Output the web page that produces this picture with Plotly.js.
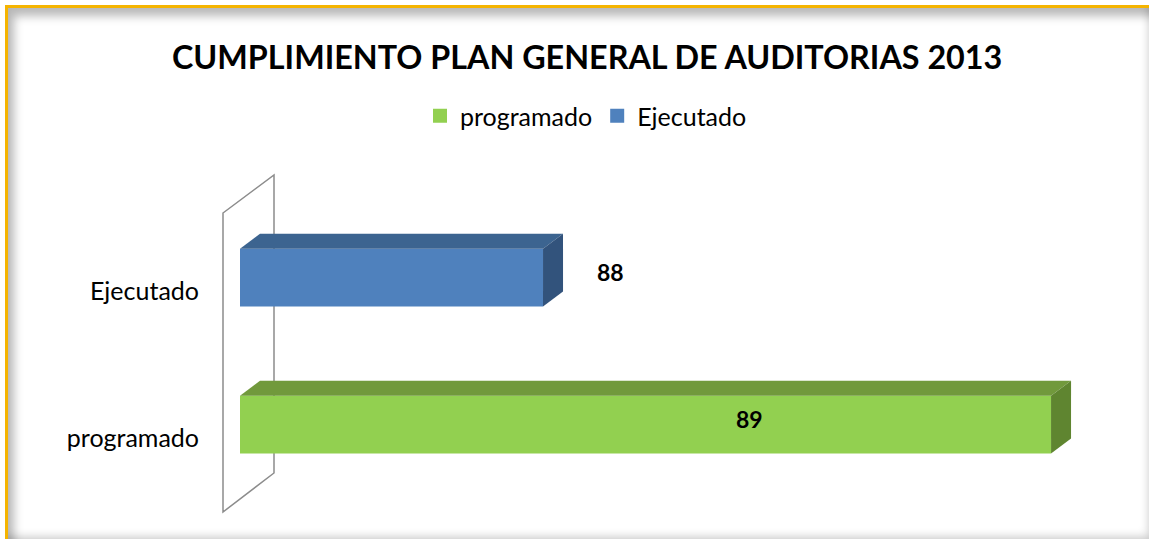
<!DOCTYPE html>
<html>
<head>
<meta charset="utf-8">
<script src="https://cdn.plot.ly/plotly-3.0.1.min.js"></script>
<style>
  body { margin: 0; background: #fff; }
  #wrap { position: relative; width: 1149px; height: 539px; overflow: hidden; }
  #chart { width: 1149px; height: 539px; }
  #frame {
    position: absolute; left: 5px; top: 5px; width: 1150px; height: 540px;
    border-top: 3px solid #f5b400; border-left: 3px solid #f5b400;
    box-shadow: inset 6px 8px 10px rgba(0,0,0,0.28), inset -6px -8px 10px rgba(0,0,0,0.22);
    pointer-events: none; box-sizing: border-box;
  }
</style>
</head>
<body>
<div id="wrap">
  <div id="chart"></div>
  <div id="frame"></div>
</div>
<script>
// values
var categories = ['programado', 'Ejecutado'];
var values = [89, 88];
var labels = ['89', '88'];

// colours: front, top, side
var frontColors = ['#92d050', '#4f81bd'];
var topColors = ['#71993c', '#3c6490'];
var sideColors = ['#5f8530', '#32537c'];
var labelShift = [-302, 67];

var W = 1149, H = 539;
var margin = {l: 240, r: 69, t: 170, b: 19, pad: 0};
var xRange = [87.4035, 89.057];
var yRange = [-0.558, 1.823];
var barWidth = 0.394, barOffset = -0.106;

var plotW = W - margin.l - margin.r;
var plotH = H - margin.t - margin.b;
// depth of the fake 3d in pixels -> data units
var dx = 20 * (xRange[1] - xRange[0]) / plotW;
var dy = 15 * (yRange[1] - yRange[0]) / plotH;

function px(x) { return (x - margin.l) / plotW; }
function py(y) { return (H - margin.b - y) / plotH; }

var traces = categories.map(function (c, i) {
  return {
    type: 'bar',
    orientation: 'h',
    name: c,
    x: [values[i]],
    y: [i],
    width: barWidth,
    offset: barOffset,
    marker: {color: frontColors[i], line: {width: 0}},
    showlegend: false
  };
});
// legend entries with bigger square swatches
categories.forEach(function (c, i) {
  traces.push({
    type: 'scatter', mode: 'markers', name: c,
    x: [null], y: [null],
    marker: {symbol: 'square', size: 14, color: frontColors[i]}
  });
});

var shapes = [];
// side wall
shapes.push({
  type: 'path', xref: 'paper', yref: 'paper', layer: 'below',
  path: 'M' + px(223) + ',' + py(213) + ' L' + px(274) + ',' + py(175) +
        ' L' + px(274) + ',' + py(473) + ' L' + px(223) + ',' + py(512) + ' Z',
  line: {color: '#8c8c8c', width: 1.5}
});

categories.forEach(function (c, i) {
  var v = values[i];
  var y0 = i + barOffset, y1 = y0 + barWidth, x0 = xRange[0];
  shapes.push({
    type: 'path', xref: 'x', yref: 'y', layer: 'above',
    path: 'M' + x0 + ',' + y1 + ' L' + v + ',' + y1 + ' L' + (v + dx) + ',' + (y1 + dy) +
          ' L' + (x0 + dx) + ',' + (y1 + dy) + ' Z',
    fillcolor: topColors[i], line: {width: 0}
  });
  shapes.push({
    type: 'path', xref: 'x', yref: 'y', layer: 'above',
    path: 'M' + v + ',' + y0 + ' L' + (v + dx) + ',' + (y0 + dy) + ' L' + (v + dx) + ',' + (y1 + dy) +
          ' L' + v + ',' + y1 + ' Z',
    fillcolor: sideColors[i], line: {width: 0}
  });
});

var annotations = categories.map(function (c, i) {
  return {
    x: values[i], y: i + barOffset + barWidth / 2,
    xref: 'x', yref: 'y',
    text: '<b>' + labels[i] + '</b>',
    showarrow: false, xshift: labelShift[i], yshift: 6,
    font: {family: 'Lato, sans-serif', size: 23, color: '#000'}
  };
});

var layout = {
  width: W, height: H,
  margin: margin,
  paper_bgcolor: '#fff',
  plot_bgcolor: 'rgba(0,0,0,0)',
  font: {family: 'Lato, sans-serif', color: '#000'},
  title: {
    text: '<b>CUMPLIMIENTO PLAN GENERAL DE AUDITORIAS 2013</b>',
    font: {family: 'Lato, sans-serif', size: 32.3, color: '#000'},
    xref: 'container', yref: 'container',
    x: 0.511, xanchor: 'center', y: 1 - 58 / H, yanchor: 'middle'
  },
  barmode: 'overlay',
  showlegend: true,
  legend: {
    orientation: 'h',
    xref: 'container', yref: 'container',
    x: 0.51, xanchor: 'center', y: 1 - 116 / H, yanchor: 'middle',
    font: {family: 'Lato, sans-serif', size: 25, color: '#000'},
    itemsizing: 'trace',
    traceorder: 'normal'
  },
  xaxis: {
    range: xRange, visible: false, fixedrange: true
  },
  yaxis: {
    range: yRange, tickvals: [0, 1], ticktext: categories,
    showgrid: false, zeroline: false, showline: false, ticks: '',
    ticklabelstandoff: 40,
    tickfont: {family: 'Lato, sans-serif', size: 25, color: '#000'},
    fixedrange: true
  },
  shapes: shapes,
  annotations: annotations
};

Plotly.newPlot('chart', traces, layout, {displayModeBar: false, staticPlot: true});
</script>
</body>
</html>
